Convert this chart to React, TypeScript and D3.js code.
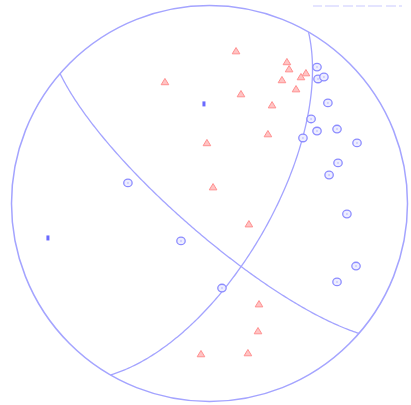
import React from "react";
import * as d3 from "d3";

// Planes (dip direction, dip) — equal-area lower hemisphere
const planeDipDirs = [221, 120];
const planeDips = [78, 65];

// Red triangles, net coordinates (-100..100, north up)
const triX = [-22.5, 13.4, 39.1, 40.2, 36.6, 48.7, 46.2, 43.7, 15.9, 31.6, 29.5, -1.3, 1.8, 19.9, 25.0, 24.5, 19.4, -4.3];
const triY = [61.4, 77.0, 71.5, 67.9, 62.4, 65.9, 63.9, 57.8, 55.3, 49.7, 35.1, 30.6, 8.3, -10.4, -50.8, -64.4, -75.5, -76.0];

// Blue circles
const cirX = [54.3, 54.8, 57.8, 59.8, 51.3, 54.3, 64.4, 47.2, 74.5, 64.9, 60.4, 69.4, 74.0, 64.4, 6.3, -14.4, -41.2];
const cirY = [68.9, 62.9, 63.9, 50.8, 42.7, 36.6, 37.6, 33.1, 30.6, 20.5, 14.4, -5.3, -31.6, -39.6, -42.7, -18.9, 10.4];

// Small dark blue marks
const markX = [-2.8, -81.6];
const markY = [50.3, -17.4];

const W = 411;
const H = 405;
const CX = 209.5;
const CY = 203.5;
const R = 198;

const sx = d3.scaleLinear().domain([-100, 100]).range([CX - R, CX + R]);
const sy = d3.scaleLinear().domain([-100, 100]).range([CY + R, CY - R]);

const rad = Math.PI / 180;

function projectLine(trend: number, plunge: number): [number, number] {
  const r = Math.SQRT2 * Math.sin(((90 - plunge) / 2) * rad) * 100;
  return [r * Math.sin(trend * rad), r * Math.cos(trend * rad)];
}

function greatCircle(dd: number, dip: number): [number, number][] {
  const s = dd - 90;
  const sv = [Math.sin(s * rad), Math.cos(s * rad), 0];
  const dv = [Math.cos(dip * rad) * Math.sin(dd * rad), Math.cos(dip * rad) * Math.cos(dd * rad), Math.sin(dip * rad)];
  const pts: [number, number][] = [];
  for (let a = 0; a <= 180; a += 1) {
    const c = Math.cos(a * rad);
    const si = Math.sin(a * rad);
    const e = c * sv[0] + si * dv[0];
    const n = c * sv[1] + si * dv[1];
    const dn = Math.max(0, Math.min(1, c * sv[2] + si * dv[2]));
    const plunge = Math.asin(dn) / rad;
    const trend = Math.atan2(e, n) / rad;
    pts.push(projectLine(trend, plunge));
  }
  return pts;
}

const line = d3.line<[number, number]>().x((d) => sx(d[0])).y((d) => sy(d[1]));

export default function App() {
  const stroke = "#a4a4ff";
  return (
    <svg width={W} height={H} style={{ position: "absolute", left: 0, top: 0, background: "#fff" }}>
      <line x1={313} x2={402} y1={6} y2={6} stroke="#dcdcff" strokeWidth={1.5} strokeDasharray="9 3 14 4 10 3" />
      <circle cx={sx(0)} cy={sy(0)} r={sx(100) - sx(0)} fill="none" stroke={stroke} strokeWidth={1.5} />
      {planeDipDirs.map((dd, i) => (
        <path key={i} d={line(greatCircle(dd, planeDips[i])) || ""} fill="none" stroke={stroke} strokeWidth={1.3} />
      ))}
      {cirX.map((x, i) => (
        <g key={"c" + i}>
          <ellipse cx={sx(x)} cy={sy(cirY[i])} rx={4.2} ry={3.8} fill="#eeeeff" stroke="#8c8cff" strokeWidth={1.3} />
          <circle cx={sx(x)} cy={sy(cirY[i])} r={1} fill="#c8c8ff" />
        </g>
      ))}
      {markX.map((x, i) => (
        <rect key={"m" + i} x={sx(x) - 1.5} y={sy(markY[i]) - 2.5} width={3} height={5} fill="#6a6aff" />
      ))}
      {triX.map((x, i) => {
        const px = sx(x);
        const py = sy(triY[i]);
        return (
          <path
            key={"t" + i}
            d={`M${px},${py - 3.5}L${px + 3.8},${py + 2.8}L${px - 3.8},${py + 2.8}Z`}
            fill="#ffc4c4"
            stroke="#ff9090"
            strokeWidth={1}
          />
        );
      })}
    </svg>
  );
}
